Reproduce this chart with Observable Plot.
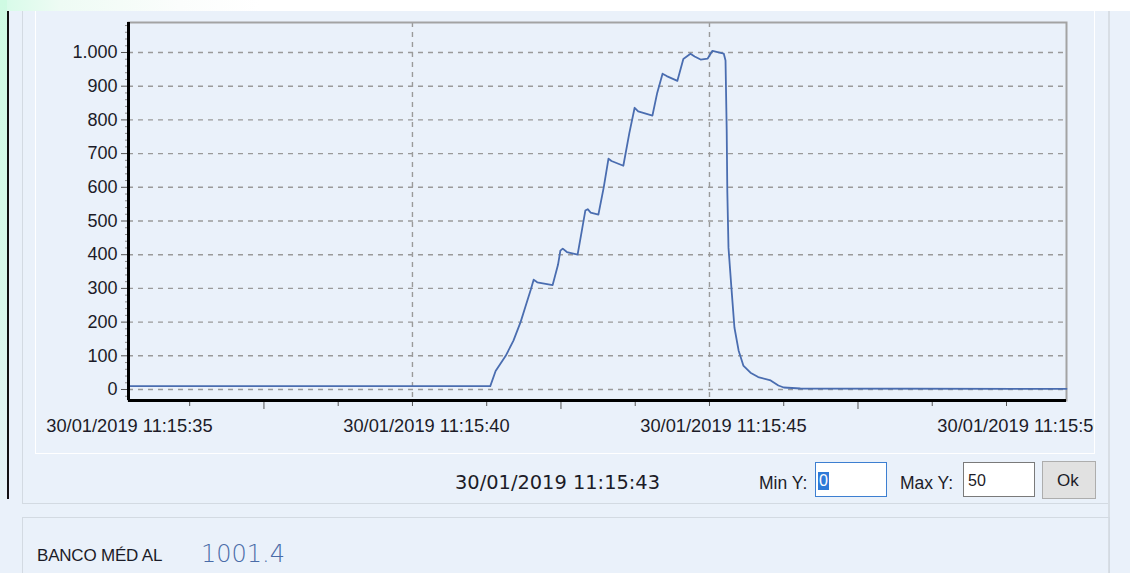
<!DOCTYPE html>
<html>
<head>
<meta charset="utf-8">
<script src="https://cdn.jsdelivr.net/npm/d3@7"></script>
<script src="https://cdn.jsdelivr.net/npm/@observablehq/plot@0.6"></script>
<style>
  html, body { margin:0; padding:0; }
  body { width:1130px; height:573px; overflow:hidden; position:relative; background:#EAF1FA; font-family:"Liberation Sans", Arial, sans-serif; }
  .abs { position:absolute; }
  .lbl { color:#1c1c28; }
  #chart svg { max-width:none !important; }
</style>
</head>
<body>
<div class="abs" style="left:0;top:0;width:1130px;height:11px;background:linear-gradient(90deg,#d6fbe8 0px,#eefbf4 60px,#fbfdfc 180px,#ffffff 260px);"></div>
<div class="abs" style="left:0;top:0;width:7px;height:500px;background:linear-gradient(180deg,#cffbe3 0%,#d8f8ea 60%,#e6f2f6 100%);"></div>
<div class="abs" style="left:7px;top:11px;width:2px;height:488px;background:#111;"></div>
<div class="abs" style="left:22px;top:11px;width:1085px;height:492px;border:1px solid #d3dae2;border-top:none;"></div>
<div class="abs" style="left:35px;top:11px;width:1058px;height:442px;border:1px solid #ffffff;border-top:none;"></div>
<div class="abs" style="left:1108px;top:11px;width:2px;height:562px;background:#d8dee5;"></div>
<div class="abs" style="left:22px;top:517px;width:1086px;height:70px;border:1px solid #d3dae2;"></div>
<div id="chart" class="abs" style="left:0;top:0;width:1094px;height:460px;overflow:hidden;"></div>

<div class="abs lbl" style="left:455px;top:471px;font-family:'DejaVu Sans';font-size:19.4px;white-space:nowrap;">30/01/2019 11:15:43</div>
<div class="abs lbl" style="left:759px;top:473px;font-size:17.5px;white-space:nowrap;">Min Y:</div>
<div class="abs" style="left:815px;top:462px;width:70px;height:33px;border:1px solid #3d7fd1;background:#fff;"></div>
<div class="abs" style="left:818px;top:472px;width:11px;height:18px;background:#2f7ad8;"></div>
<div class="abs" style="left:819px;top:472px;font-size:16px;color:#fff;">0</div>
<div class="abs lbl" style="left:900px;top:473px;font-size:17.5px;white-space:nowrap;">Max Y:</div>
<div class="abs" style="left:963px;top:462px;width:70px;height:33px;border:1px solid #7a7a7a;background:#fff;"></div>
<div class="abs lbl" style="left:968px;top:472px;font-size:16px;">50</div>
<div class="abs" style="left:1042px;top:461px;width:52px;height:36px;border:1px solid #adadad;background:#e1e1e1;"></div>
<div class="abs lbl" style="left:1057px;top:471px;font-size:17px;">Ok</div>

<div class="abs lbl" style="left:37px;top:546px;font-size:17px;letter-spacing:-0.2px;white-space:nowrap;">BANCO MÉD AL</div>
<div class="abs" style="left:201px;top:540px;font-family:'DejaVu Sans';font-weight:200;font-size:24px;color:#4a6ca8;">1001.4</div>

<script>
// Time in seconds after 30/01/2019 11:15:00
const times = [35.22, 41.31, 41.40, 41.57, 41.70, 41.82, 41.90, 41.99, 42.04, 42.10, 42.36, 42.45, 42.49, 42.53, 42.60, 42.78, 42.85, 42.91, 42.95, 43.00, 43.13, 43.22, 43.30, 43.35, 43.55, 43.65, 43.74, 43.80, 44.04, 44.12, 44.21, 44.28, 44.46, 44.56, 44.68, 44.75, 44.85, 44.97, 45.05, 45.24, 45.27, 45.29, 45.30, 45.32, 45.37, 45.42, 45.49, 45.57, 45.69, 45.82, 46.03, 46.16, 46.25, 46.53, 51.01];
const values = [10, 10, 55, 100, 145, 200, 245, 295, 326, 318, 310, 370, 412, 418, 408, 400, 470, 531, 535, 525, 519, 600, 685, 678, 664, 760, 836, 825, 813, 880, 937, 930, 916, 981, 996, 988, 979, 982, 1005, 997, 976, 768, 590, 421, 300, 184, 116, 71, 50, 37, 27, 12, 6, 3, 2];

const xDomain = [35.22, 51.01];
const yDomain = [-32.6, 1089];
const yTicks = [0, 100, 200, 300, 400, 500, 600, 700, 800, 900, 1000];
const yMinorTicks = d3.range(-20, 1081, 20).filter(v => v % 100 !== 0);
const xLabelTicks = [35, 40, 45, 50];
const xGridTicks = [40, 45];
const xMinorTicks = [36.25, 38.75, 40, 41.25, 43.75, 45, 46.25, 48.75, 50];
const xMidTicks = [37.5, 42.5, 47.5];
const datePrefix = "30/01/2019 11:15:";

const data = times.map((t, i) => ({t, v: values[i]}));
const fmtY = d => d3.format(",")(d).replace(/,/g, ".");

const chart = Plot.plot({
  width: 1130,
  height: 460,
  marginLeft: 128,
  marginRight: 64,
  marginTop: 22,
  marginBottom: 60,
  style: {background: "transparent", fontFamily: "'Liberation Sans', Arial, sans-serif", color: "#1c1c28", maxWidth: "none"},
  x: {domain: xDomain, axis: null},
  y: {domain: yDomain, axis: null},
  marks: [
    Plot.gridY(yTicks, {stroke: "#9a9a9a", strokeOpacity: 1, strokeWidth: 1.4, strokeDasharray: "5,5"}),
    Plot.gridX(xGridTicks, {stroke: "#9a9a9a", strokeOpacity: 1, strokeWidth: 1.4, strokeDasharray: "5,5"}),
    Plot.frame({stroke: "#a3a3a3", strokeWidth: 2}),
    Plot.line(data, {x: "t", y: "v", stroke: "#4a6db0", strokeWidth: 1.8}),
    Plot.axisY({ticks: yMinorTicks, tickSize: 3, tickFormat: () => "", stroke: "#8a8a8a", label: null}),
    Plot.axisY({ticks: yTicks, tickSize: 7, tickPadding: 4, tickFormat: fmtY, fontSize: 18, stroke: "#555", label: null}),
    Plot.axisX({ticks: xMinorTicks, tickSize: 6, tickFormat: () => "", stroke: "#555", label: null}),
    Plot.axisX({ticks: xMidTicks, tickSize: 9, tickFormat: () => "", stroke: "#555", label: null}),
    Plot.axisX({ticks: xLabelTicks, tickSize: 0, tickPadding: 18, dx: 14, fontSize: 18.3, tickFormat: d => datePrefix + d, label: null}),
    Plot.ruleX([xDomain[0]], {stroke: "#000", strokeWidth: 3}),
    Plot.ruleY([yDomain[0]], {stroke: "#000", strokeWidth: 3})
  ]
});
chart.style.maxWidth = "none";
document.getElementById("chart").appendChild(chart);
</script>
</body>
</html>
